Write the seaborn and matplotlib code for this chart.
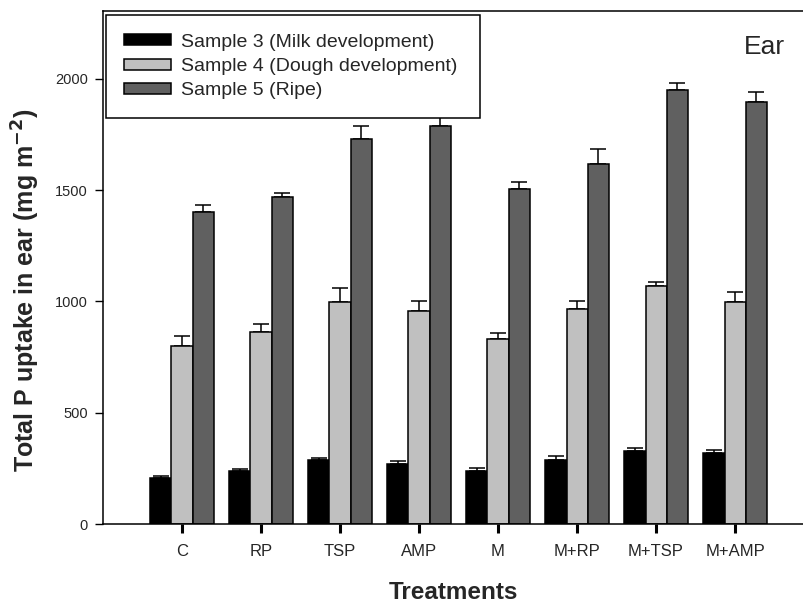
import matplotlib
matplotlib.use("Agg")
import matplotlib.pyplot as plt
import seaborn as sns
import pandas as pd
import numpy as np

# ---- data ----
treatments = ["C", "RP", "TSP", "AMP", "M", "M+RP", "M+TSP", "M+AMP"]
series_names = ["Sample 3 (Milk development)", "Sample 4 (Dough development)", "Sample 5 (Ripe)"]
sample3 = [207, 237, 286, 268, 237, 288, 327, 319]
sample3_err = [8, 10, 12, 14, 13, 18, 15, 12]
sample4 = [801, 864, 999, 957, 830, 966, 1070, 998]
sample4_err = [44, 36, 62, 44, 27, 38, 18, 46]
sample5 = [1404, 1471, 1730, 1790, 1504, 1617, 1952, 1898]
sample5_err = [30, 18, 57, 50, 33, 70, 30, 44]
colors = ["#000000", "#c0c0c0", "#606060"]

values = [sample3, sample4, sample5]
errors = [sample3_err, sample4_err, sample5_err]

rows = []
for name, vals in zip(series_names, values):
    for t, v in zip(treatments, vals):
        rows.append({"Treatment": t, "Value": v, "Sample": name})
df = pd.DataFrame(rows)

sns.set_style("ticks")
plt.rcParams["font.family"] = ["Liberation Sans", "DejaVu Sans"]

fig = plt.figure(figsize=(8.04, 6.03), dpi=100)
ax = fig.add_axes([103 / 804, 1 - 524 / 603, 700 / 804, 513 / 603])

sns.barplot(data=df, x="Treatment", y="Value", hue="Sample", order=treatments,
            hue_order=series_names, palette=colors, edgecolor="black",
            linewidth=1.1, width=0.8, gap=0, errorbar=None, ax=ax, zorder=2)

for cont, errs in zip(ax.containers, errors):
    xs = [p.get_x() + p.get_width() / 2 for p in cont.patches]
    ys = [p.get_height() for p in cont.patches]
    ax.errorbar(xs, ys, yerr=[np.zeros(len(errs)), errs], fmt="none",
                ecolor="black", elinewidth=1.1, capsize=5.5, capthick=1.1, zorder=1)

ax.set_xlim(-1, 7.86)
ax.set_ylim(0, 2305)
ax.set_yticks([0, 500, 1000, 1500, 2000])

for s in ["left", "bottom", "top"]:
    ax.spines[s].set_visible(True)
    ax.spines[s].set_linewidth(1.1)
    ax.spines[s].set_color("black")
ax.spines["right"].set_visible(False)

ax.tick_params(axis="y", direction="out", length=6, width=1.0, labelsize=10.5, pad=5, color="black")
ax.tick_params(axis="x", direction="out", length=6.5, width=2.2, labelsize=12, pad=8, color="black")

ax.set_xlabel("Treatments", fontsize=17.5, fontweight="bold", labelpad=16)
ax.set_ylabel("Total P uptake in ear (mg m$^{\\mathbf{-2}}$)", fontsize=18, fontweight="bold")
ax.yaxis.set_label_coords(-0.087, 0.456)

ax.text(0.975, 0.93, "Ear", transform=ax.transAxes, ha="right", va="center", fontsize=19)

leg = ax.legend(loc="upper left", bbox_to_anchor=(0.004, 0.992, 374 / 700, 0.0),
                mode="expand", borderaxespad=0,
                fontsize=14, frameon=True, fancybox=False, framealpha=1,
                edgecolor="black", handlelength=2.4, handleheight=0.5,
                handletextpad=0.5, labelspacing=0.38, borderpad=0.95, title=None)
leg.get_frame().set_linewidth(1.1)

fig.savefig("out.png", dpi=100)
